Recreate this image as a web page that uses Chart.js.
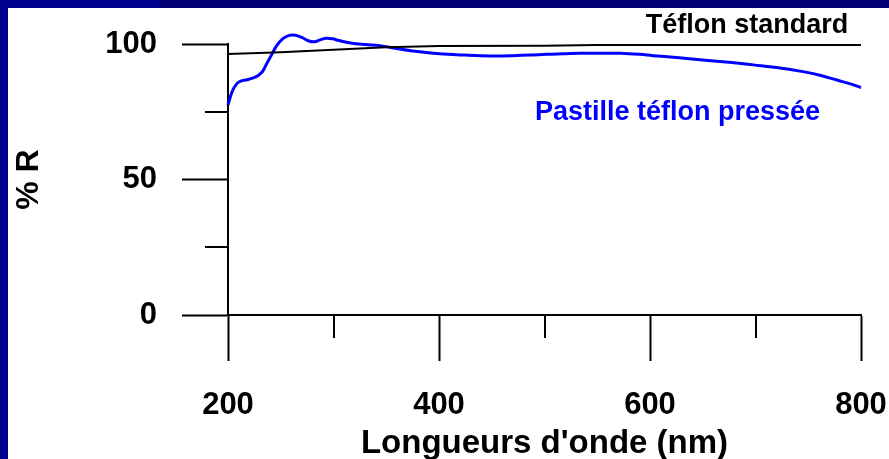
<!DOCTYPE html>
<html>
<head>
<meta charset="utf-8">
<script src="https://cdn.jsdelivr.net/npm/chart.js@4.4.0/dist/chart.umd.min.js"></script>
<style>
  html, body { margin: 0; padding: 0; }
  body { width: 889px; height: 459px; background: #000090; position: relative; overflow: hidden; }
  #topRight { position: absolute; left: 160px; top: 0; width: 729px; height: 8px; background: #000074; }
  #wrap { position: absolute; left: 8px; top: 8px; width: 881px; height: 451px; background: #fff; }
</style>
</head>
<body>
<div id="topRight"></div>
<div id="wrap"><canvas id="myChart" width="881" height="451"></canvas></div>
<script>
// data
const standardNm = [200, 250, 300, 350, 400, 500, 550, 800];
const standardR = [96.3, 97.0, 97.9, 98.8, 99.3, 99.4, 99.6, 99.6];

const pastilleNm = [200, 204, 208, 212, 218, 224, 229, 233, 237, 241, 246, 252, 258, 264, 270, 276, 282, 288, 293, 299, 305, 316, 330, 344, 360, 375, 392, 408, 425, 439, 455, 470, 486, 502, 518, 534, 555, 572, 590, 603, 625, 650, 675, 698, 720, 745, 762, 777, 790, 800];
const pastilleR = [77.5, 82.5, 85.2, 86.3, 86.8, 87.5, 88.5, 90, 93, 95.8, 99.3, 102, 103.2, 103.2, 102.4, 101.2, 100.8, 101.6, 102.1, 101.9, 101.3, 100.4, 99.8, 99.4, 98.3, 97.4, 96.7, 96.2, 95.9, 95.7, 95.6, 95.7, 95.9, 96.2, 96.4, 96.6, 96.6, 96.6, 96.2, 95.7, 95, 94.1, 93.3, 92.3, 91.3, 89.8, 88.4, 86.7, 85.3, 83.9];

const xTicks = [200, 300, 400, 500, 600, 700, 800];
const xLabels = [200, 400, 600, 800];
const yTicks = [0, 25, 50, 75, 100];
const yLabels = [0, 50, 100];

const fontFamily = "'Liberation Sans', Arial, sans-serif";
const black = '#000000';
const blue = '#0000ff';

// short ticks and the two series names
const extras = {
    id: 'extras',
    afterDraw(chart) {
        const ctx = chart.ctx;
        const x = chart.scales.x;
        const y = chart.scales.y;
        const area = chart.chartArea;
        ctx.save();
        ctx.strokeStyle = black;
        ctx.lineWidth = 2;
        xTicks.filter(v => !xLabels.includes(v)).forEach(v => {
            const px = Math.round(x.getPixelForValue(v));
            ctx.beginPath();
            ctx.moveTo(px, area.bottom);
            ctx.lineTo(px, area.bottom + 23);
            ctx.stroke();
        });
        yTicks.filter(v => !yLabels.includes(v)).forEach(v => {
            const py = Math.round(y.getPixelForValue(v));
            ctx.beginPath();
            ctx.moveTo(area.left, py);
            ctx.lineTo(area.left - 23, py);
            ctx.stroke();
        });

        ctx.font = 'bold 27px ' + fontFamily;
        ctx.textBaseline = 'alphabetic';
        ctx.textAlign = 'right';
        ctx.fillStyle = black;
        ctx.fillText('Téflon standard', x.getPixelForValue(788), y.getPixelForValue(104));
        ctx.textAlign = 'left';
        ctx.fillStyle = blue;
        ctx.fillText('Pastille téflon pressée', x.getPixelForValue(491), y.getPixelForValue(72));
        ctx.restore();
    }
};

const ctx = document.getElementById('myChart');
const myChart = new Chart(ctx, {
    type: 'line',
    data: {
        datasets: [{
            label: 'Téflon standard',
            data: standardNm.map((v, i) => ({ x: v, y: standardR[i] })),
            borderColor: black,
            borderWidth: 2,
            tension: 0,
            pointRadius: 0,
            clip: false
        }, {
            label: 'Pastille téflon pressée',
            data: pastilleNm.map((v, i) => ({ x: v, y: pastilleR[i] })),
            borderColor: blue,
            borderWidth: 3,
            tension: 0.4,
            pointRadius: 0,
            clip: false
        }]
    },
    options: {
        responsive: false,
        animation: false,
        layout: { padding: { top: 36, right: 28, left: 0, bottom: 0 } },
        plugins: {
            legend: { display: false },
            tooltip: { enabled: false }
        },
        scales: {
            x: {
                type: 'linear',
                min: 200,
                max: 800,
                afterBuildTicks: s => { s.ticks = xTicks.map(v => ({ value: v })); },
                afterFit: s => { s.height = 144; s.paddingLeft = 0; s.paddingRight = 0; },
                grid: {
                    drawOnChartArea: false,
                    drawTicks: true,
                    tickLength: 46,
                    tickWidth: 2,
                    tickColor: c => xLabels.includes(c.tick.value) ? black : 'rgba(0,0,0,0)'
                },
                border: { display: true, color: black, width: 2 },
                ticks: {
                    autoSkip: false,
                    maxRotation: 0,
                    padding: 26,
                    color: black,
                    font: { family: fontFamily, size: 31, weight: 'bold' },
                    callback: v => xLabels.includes(v) ? String(v) : ''
                },
                title: {
                    display: true,
                    text: "Longueurs d'onde (nm)",
                    color: black,
                    font: { family: fontFamily, size: 33, weight: 'bold', lineHeight: 0.92 },
                    padding: { top: 0, bottom: 0 }
                }
            },
            y: {
                min: 0,
                max: 100,
                afterBuildTicks: s => { s.ticks = yTicks.map(v => ({ value: v })); },
                afterFit: s => { s.width = 220; s.paddingTop = 0; s.paddingBottom = 0; },
                grid: {
                    drawOnChartArea: false,
                    drawTicks: true,
                    tickLength: 46,
                    tickWidth: 2,
                    tickColor: c => yLabels.includes(c.tick.value) ? black : 'rgba(0,0,0,0)'
                },
                border: { display: true, color: black, width: 2 },
                ticks: {
                    autoSkip: false,
                    padding: 25,
                    color: black,
                    font: { family: fontFamily, size: 31, weight: 'bold' },
                    callback: v => yLabels.includes(v) ? String(v) : ''
                },
                title: {
                    display: true,
                    text: '% R',
                    color: black,
                    font: { family: fontFamily, size: 32, weight: 'bold' },
                    padding: { top: 2, bottom: 0 }
                }
            }
        }
    },
    plugins: [extras]
});
</script>
</body>
</html>
